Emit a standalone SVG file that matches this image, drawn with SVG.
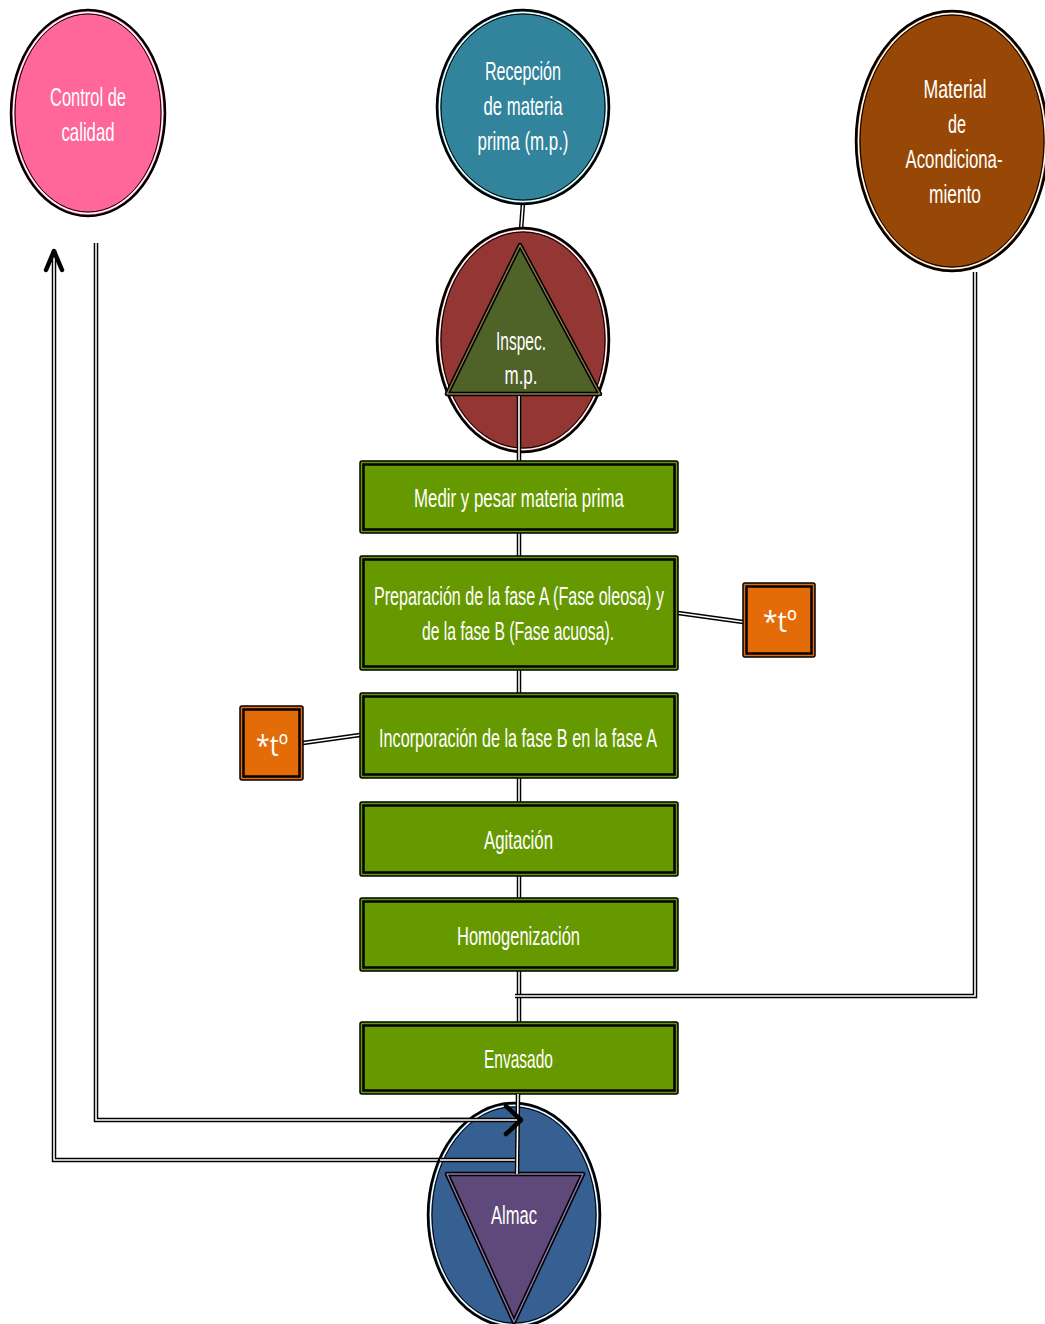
<svg xmlns="http://www.w3.org/2000/svg" xmlns:xlink="http://www.w3.org/1999/xlink" width="1045" height="1324" viewBox="0 0 1045 1324">
<style>
.t{font-family:"Liberation Sans Narrow","Liberation Sans","DejaVu Sans Condensed",sans-serif;font-size:25px;fill:#fff;text-anchor:middle}
.tb{font-family:"Open Sans","DejaVu Sans",sans-serif;font-size:30px;fill:#fff;text-anchor:middle}
.eo{stroke:#000;stroke-width:2.5}
.ew{fill:none;stroke:#fff;stroke-width:1.5}
.ei{fill:none;stroke:#000;stroke-width:1}
.bo{stroke:#000;stroke-width:1.5}
.bi{fill:none;stroke:#000;stroke-width:2.5}
.co{fill:none;stroke:#000;stroke-width:4.5}
.ci{fill:none;stroke:#fff;stroke-width:1.6}
.ar{fill:none;stroke:#000;stroke-width:4.5;stroke-linecap:round;stroke-linejoin:round}
</style>
<defs>
<path id="c1" d="M523,203 L520,243"/>
<path id="c2" d="M519,396 L519,461"/>
<path id="c3" d="M519,533 L519,556"/>
<path id="c4" d="M519,670 L519,693"/>
<path id="c5" d="M519,778 L519,802"/>
<path id="c6" d="M519,876 L519,898"/>
<path id="c7" d="M519,971 L519,1022"/>
<path id="c8" d="M975,272 L975,996 L515,996"/>
<path id="c9" d="M518,1094 L517,1174"/>
<path id="c10" d="M678,613 L743,622"/>
<path id="c11" d="M303,743 L360,735"/>
<path id="c12" d="M96,243 L96,1120 L520,1120"/>
<path id="c13" d="M515,1160 L54,1160 L54,250"/>
</defs>

<g id="connectors">
<use xlink:href="#c1" class="co"/><use xlink:href="#c1" class="ci"/>
<use xlink:href="#c3" class="co"/><use xlink:href="#c3" class="ci"/>
<use xlink:href="#c4" class="co"/><use xlink:href="#c4" class="ci"/>
<use xlink:href="#c5" class="co"/><use xlink:href="#c5" class="ci"/>
<use xlink:href="#c6" class="co"/><use xlink:href="#c6" class="ci"/>
<use xlink:href="#c7" class="co"/><use xlink:href="#c7" class="ci"/>
<use xlink:href="#c8" class="co"/><use xlink:href="#c8" class="ci"/>
<use xlink:href="#c10" class="co"/><use xlink:href="#c10" class="ci"/>
<use xlink:href="#c11" class="co"/><use xlink:href="#c11" class="ci"/>
<use xlink:href="#c12" class="co"/><use xlink:href="#c12" class="ci"/>
<use xlink:href="#c13" class="co"/><use xlink:href="#c13" class="ci"/>
<path class="ar" d="M46,270 L54,251 L62,270"/>
</g>

<g id="control">
<ellipse class="eo" cx="88" cy="113" rx="77" ry="103" fill="#FF6699"/>
<ellipse class="ew" cx="88" cy="113" rx="74.5" ry="100.5"/>
<ellipse class="ei" cx="88" cy="113" rx="73" ry="99"/>
<text class="t" x="88" y="106" textLength="76" lengthAdjust="spacingAndGlyphs">Control de</text>
<text class="t" x="88" y="141" textLength="53" lengthAdjust="spacingAndGlyphs">calidad</text>
</g>

<g id="recepcion">
<ellipse class="eo" cx="523" cy="107" rx="86" ry="97" fill="#31849B"/>
<ellipse class="ew" cx="523" cy="107" rx="83.5" ry="94.5"/>
<ellipse class="ei" cx="523" cy="107" rx="82" ry="93"/>
<text class="t" x="523" y="80" textLength="76" lengthAdjust="spacingAndGlyphs">Recepción</text>
<text class="t" x="523" y="115" textLength="79" lengthAdjust="spacingAndGlyphs">de materia</text>
<text class="t" x="523" y="150" textLength="91" lengthAdjust="spacingAndGlyphs">prima (m.p.)</text>
</g>

<g id="material">
<ellipse class="eo" cx="952" cy="141" rx="96" ry="130" fill="#974806"/>
<ellipse class="ew" cx="952" cy="141" rx="93.5" ry="127.5"/>
<ellipse class="ei" cx="952" cy="141" rx="92" ry="126"/>
<text class="t" x="955" y="98" textLength="63" lengthAdjust="spacingAndGlyphs">Material</text>
<text class="t" x="957" y="133" textLength="18" lengthAdjust="spacingAndGlyphs">de</text>
<text class="t" x="954" y="168" textLength="97" lengthAdjust="spacingAndGlyphs">Acondiciona-</text>
<text class="t" x="955" y="203" textLength="52" lengthAdjust="spacingAndGlyphs">miento</text>
</g>

<g id="inspeccion">
<ellipse class="eo" cx="523" cy="340" rx="86" ry="112" fill="#943634"/>
<ellipse class="ew" cx="523" cy="340" rx="83.5" ry="109.5"/>
<ellipse class="ei" cx="523" cy="340" rx="82" ry="108"/>
<polygon points="520,245 447,394 600,394" fill="#4F6228" stroke="#000" stroke-width="4.5" stroke-linejoin="round"/>
<polygon points="520,245 447,394 600,394" fill="none" stroke="#8C7A4E" stroke-width="1.4" stroke-linejoin="round"/>
<text class="t" x="521" y="350" textLength="50" lengthAdjust="spacingAndGlyphs">Inspec.</text>
<text class="t" x="521" y="384" textLength="33" lengthAdjust="spacingAndGlyphs">m.p.</text>
</g>

<g id="connector-inspec-medir">
<use xlink:href="#c2" class="co"/><use xlink:href="#c2" class="ci"/>
</g>

<g id="medir">
<rect class="bo" x="360" y="461" width="318" height="72" rx="2" fill="#669900"/>
<rect class="bi" x="363.5" y="464.5" width="311" height="65"/>
<text class="t" x="519" y="507" textLength="210" lengthAdjust="spacingAndGlyphs">Medir y pesar materia prima</text>
</g>

<g id="preparacion">
<rect class="bo" x="360" y="556" width="318" height="114" rx="2" fill="#669900"/>
<rect class="bi" x="363.5" y="559.5" width="311" height="107"/>
<text class="t" x="519" y="605" textLength="290" lengthAdjust="spacingAndGlyphs">Preparación de la fase A (Fase oleosa) y</text>
<text class="t" x="518" y="640" textLength="192" lengthAdjust="spacingAndGlyphs">de la fase B (Fase acuosa).</text>
</g>

<g id="temp1">
<rect class="bo" x="743" y="583" width="72" height="74" rx="2" fill="#E36C09"/>
<rect class="bi" x="746.5" y="586.5" width="65" height="67"/>
<text class="tb" x="780" y="632" textLength="34" lengthAdjust="spacingAndGlyphs">*tº</text>
</g>

<g id="incorporacion">
<rect class="bo" x="360" y="693" width="318" height="85" rx="2" fill="#669900"/>
<rect class="bi" x="363.5" y="696.5" width="311" height="78"/>
<text class="t" x="518" y="747" textLength="278" lengthAdjust="spacingAndGlyphs">Incorporación de la fase B en la fase A</text>
</g>

<g id="temp2">
<rect class="bo" x="240" y="706" width="63" height="74" rx="2" fill="#E36C09"/>
<rect class="bi" x="243.5" y="709.5" width="56" height="67"/>
<text class="tb" x="272" y="756" textLength="32" lengthAdjust="spacingAndGlyphs">*tº</text>
</g>

<g id="agitacion">
<rect class="bo" x="360" y="802" width="318" height="74" rx="2" fill="#669900"/>
<rect class="bi" x="363.5" y="805.5" width="311" height="67"/>
<text class="t" x="518.5" y="849" textLength="69" lengthAdjust="spacingAndGlyphs">Agitación</text>
</g>

<g id="homogenizacion">
<rect class="bo" x="360" y="898" width="318" height="73" rx="2" fill="#669900"/>
<rect class="bi" x="363.5" y="901.5" width="311" height="66"/>
<text class="t" x="518.5" y="945" textLength="123" lengthAdjust="spacingAndGlyphs">Homogenización</text>
</g>

<g id="envasado">
<rect class="bo" x="360" y="1022" width="318" height="72" rx="2" fill="#669900"/>
<rect class="bi" x="363.5" y="1025.5" width="311" height="65"/>
<text class="t" x="518.5" y="1068" textLength="69" lengthAdjust="spacingAndGlyphs">Envasado</text>
</g>

<g id="almacen">
<ellipse class="eo" cx="514" cy="1215" rx="86" ry="112" fill="#366092"/>
<ellipse class="ew" cx="514" cy="1215" rx="83.5" ry="109.5"/>
<ellipse class="ei" cx="514" cy="1215" rx="82" ry="108"/>
<polygon points="447,1174 583,1174 514,1322" fill="#5F497A" stroke="#000" stroke-width="4.5" stroke-linejoin="round"/>
<polygon points="447,1174 583,1174 514,1322" fill="none" stroke="#8E7AAE" stroke-width="1.4" stroke-linejoin="round"/>
<text class="t" x="514" y="1224" textLength="46" lengthAdjust="spacingAndGlyphs">Almac</text>
</g>

<g id="connectors-over">
<use xlink:href="#c9" class="co"/><use xlink:href="#c9" class="ci"/>
<path d="M440,1120 L520,1120" class="co"/><path d="M440,1120 L520,1120" class="ci"/>
<path d="M515,1160 L440,1160" class="co"/><path d="M515,1160 L440,1160" class="ci"/>
<path class="ar" d="M506,1106 L521,1120 L506,1134"/>
</g>
</svg>
